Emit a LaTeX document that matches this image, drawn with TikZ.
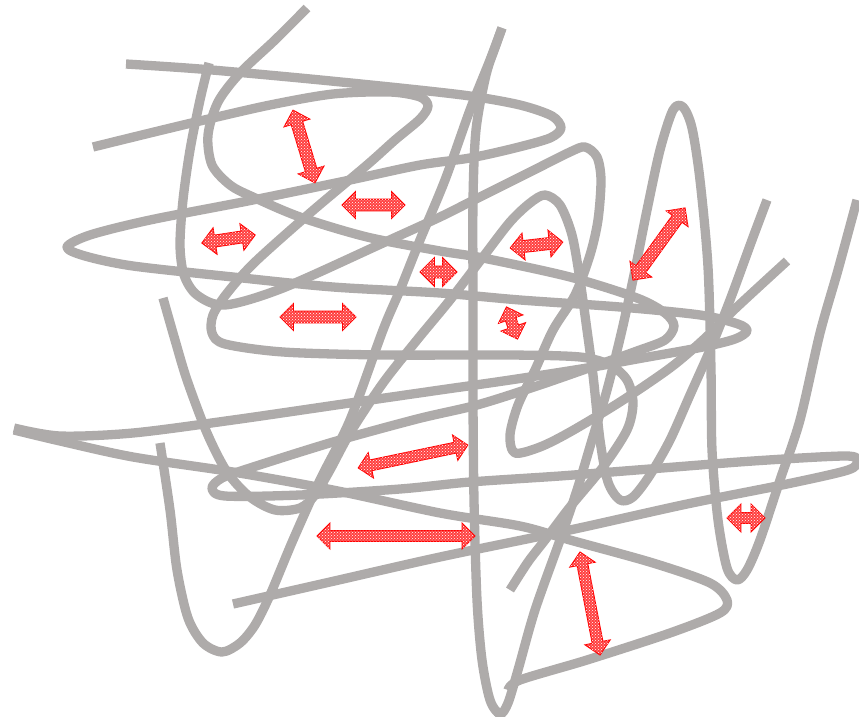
\documentclass[tikz,border=0pt]{standalone}
\usetikzlibrary{shapes.arrows,patterns}
\definecolor{scrib}{RGB}{174,171,170}
\tikzset{
  scribble/.style={draw=scrib, line width=9.3pt, line join=round, line cap=butt},
  darrow/.style={double arrow, draw=red, line width=0.9pt, fill=red!75!white,
    inner xsep=0pt, inner ysep=5.5pt, minimum width=26pt, double arrow head extend=7.5pt,
    postaction={pattern=crosshatch dots, pattern color=white}},
}
\begin{document}
\begin{tikzpicture}[x=1pt,y=-1pt]
\useasboundingbox (0,0) rectangle (859,717);
% S1
\draw[scribble] plot[smooth] coordinates {(126,64) (200,69) (300,78) (400,88) (470,96) (520,105) (552,116) (561,128) (550,138) (515,148) (470,158) (420,165) (350,180) (253,200) (150,220) (90,235) (67,247) (85,256) (133,266) (233,277) (333,287) (440,293) (520,300) (620,307) (700,315) (738,324) (747,331) (735,339) (703,347) (637,359) (587,368) (510,380) (440,390) (350,403) (233,420) (133,433) (60,436) (14,428)};
\draw[scribble] plot[smooth] coordinates {(14,430) (60,441) (133,457) (233,472) (333,490) (440,513) (520,526) (570,540) (653,563) (710,583) (727,600) (720,613) (670,633) (587,660) (520,680) (508,690)};
% S2
\draw[scribble] plot[smooth] coordinates {(93,147) (150,133) (200,121) (270,105) (333,94) (390,92) (420,97) (428,106) (420,119) (395,140) (367,165) (310,213) (255,262) (228,292) (213,315) (212,333) (225,344) (283,352) (383,355) (510,355) (580,357) (610,365) (627,380) (633,403) (627,430) (603,467) (570,507) (545,540) (528,562) (510,590)};
% S4
\draw[scribble] plot[smooth] coordinates {(209,63) (200,100) (190,150) (183,200) (180,245) (184,275) (197,295) (225,305) (283,288) (383,243) (440,217) (470,202) (530,172) (570,152) (585,147) (597,157) (601,180) (598,220) (590,255) (575,295) (553,330) (535,370) (518,405) (510,435) (515,453) (540,447) (570,432) (620,402) (670,368) (703,340) (737,307) (787,261)};
% S5
\draw[scribble] plot[smooth] coordinates {(857,200) (838,270) (820,333) (800,420) (780,480) (760,540) (747,570) (737,580) (727,568) (718,520) (712,450) (711,370) (708,267) (700,180) (692,128) (683,107) (673,110) (660,150) (647,210) (635,270) (622,330) (607,390) (592,440) (577,490) (560,540) (535,610) (518,670) (508,703) (500,714) (490,700) (482,660) (477,600) (474,500) (473,400) (473,300) (473,200) (476,130) (486,75) (496,45) (502,28)};
\draw[scribble] plot[smooth] coordinates {(502,28) (490,60) (470,110) (445,180) (420,240) (400,290) (383,330) (350,420) (320,480) (293,540) (270,595) (255,625) (240,643) (222,652) (203,643) (188,618) (177,570) (170,510) (160,443)};
% S6
\draw[scribble] plot[smooth] coordinates {(307,8) (275,40) (240,73) (218,102) (208,135) (212,165) (230,185) (253,197) (300,217) (367,237) (440,251) (483,258) (570,277) (637,298) (665,313) (674,326) (665,340) (637,351) (603,363) (537,386) (477,405) (417,419) (333,442) (250,468) (222,478) (212,488) (225,496) (300,495) (400,489) (470,482) (560,476) (637,470) (753,461) (845,456) (857,461) (848,470) (787,484) (687,504) (570,530) (440,557) (330,582) (233,604)};
% S8
\draw[scribble] plot[smooth] coordinates {(163,298) (175,340) (187,380) (207,433) (227,472) (250,497) (275,510) (300,508) (315,495) (330,470) (350,433) (383,383) (417,340) (450,300) (483,257) (510,222) (530,203) (545,195) (560,205) (572,235) (580,280) (587,330) (593,375) (600,440) (608,482) (620,500) (633,497) (650,475) (670,440) (690,395) (710,350) (730,300) (752,240) (767,200)};
% arrows
\node[darrow, minimum height=76pt, rotate=-73.2] (a1) at (304,146.5) {};
\node[darrow, minimum height=63pt] (a2) at (373.5,205) {};
\node[darrow, minimum height=54pt, rotate=8.6] (a3) at (228.5,239) {};
\node[darrow, minimum height=76pt] (a4) at (318,317) {};
\node[darrow, minimum height=37pt, minimum width=28pt, double arrow head extend=8.5pt] (a5) at (438.5,272) {};
\node[darrow, minimum height=53pt, rotate=6.5] (a6) at (536.5,245) {};
\node[darrow, minimum height=34pt, minimum width=25pt, inner ysep=5pt, rotate=-71] (a7) at (512,323) {};
\node[darrow, minimum height=89pt, rotate=54.2] (a8) at (659,244) {};
\node[darrow, minimum height=112pt, minimum width=24pt, inner ysep=5pt, rotate=11.8] (a9) at (413,456.5) {};
\node[darrow, minimum height=158pt, minimum width=23pt, inner ysep=5pt] (a10) at (396,536) {};
\node[darrow, minimum height=38pt, minimum width=27pt, inner ysep=5pt, double arrow head extend=8.5pt] (a11) at (746,518) {};
\node[darrow, minimum height=105pt, minimum width=25pt, inner ysep=5pt, rotate=-79] (a12) at (590,603.5) {};
\end{tikzpicture}
\end{document}
